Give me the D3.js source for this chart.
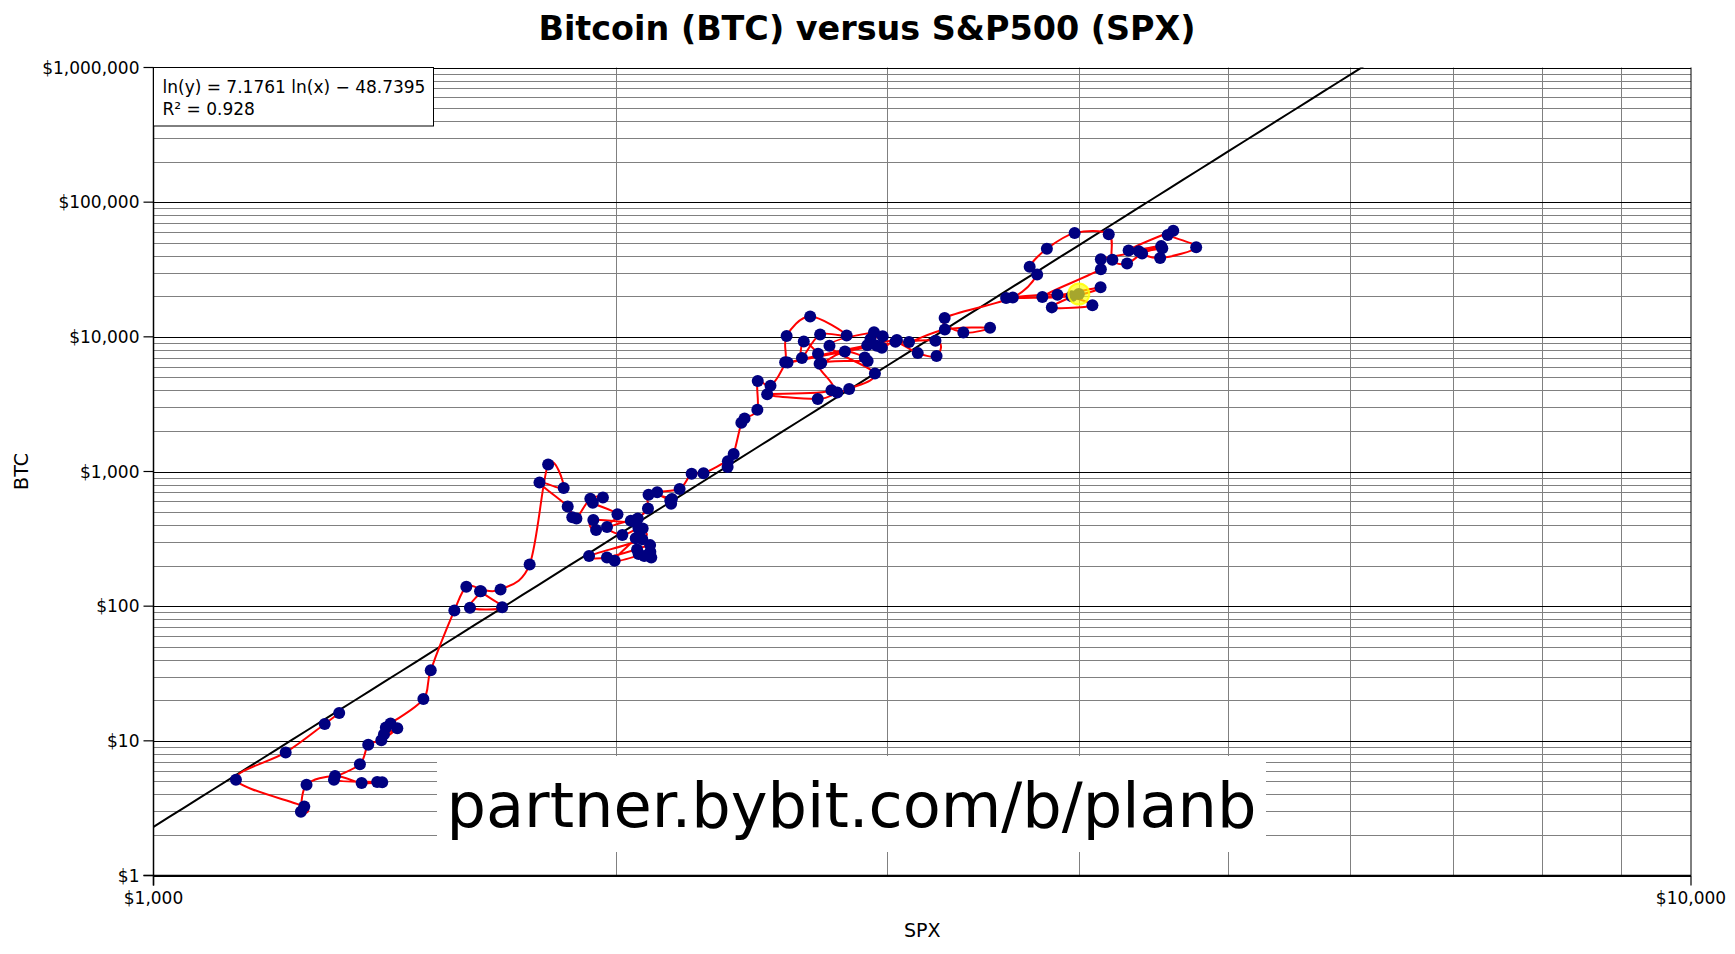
<!DOCTYPE html>
<html><head><meta charset="utf-8">
<script src="https://cdn.jsdelivr.net/npm/d3@7"></script>
<style>
body{margin:0;background:#fff}
svg{display:block}
text{font-family:"DejaVu Sans",sans-serif;fill:#000}
</style>
</head><body>
<svg id="chart" width="1735" height="954"></svg>
<script>
// ---- data (monthly, Jun 2011 .. Jan 2023) ----
const months = [
 "2011-06","2011-07","2011-08","2011-09","2011-10","2011-11","2011-12",
 "2012-01","2012-02","2012-03","2012-04","2012-05","2012-06","2012-07","2012-08","2012-09","2012-10","2012-11","2012-12",
 "2013-01","2013-02","2013-03","2013-04","2013-05","2013-06","2013-07","2013-08","2013-09","2013-10","2013-11","2013-12",
 "2014-01","2014-02","2014-03","2014-04","2014-05","2014-06","2014-07","2014-08","2014-09","2014-10","2014-11","2014-12",
 "2015-01","2015-02","2015-03","2015-04","2015-05","2015-06","2015-07","2015-08","2015-09","2015-10","2015-11","2015-12",
 "2016-01","2016-02","2016-03","2016-04","2016-05","2016-06","2016-07","2016-08","2016-09","2016-10","2016-11","2016-12",
 "2017-01","2017-02","2017-03","2017-04","2017-05","2017-06","2017-07","2017-08","2017-09","2017-10","2017-11","2017-12",
 "2018-01","2018-02","2018-03","2018-04","2018-05","2018-06","2018-07","2018-08","2018-09","2018-10","2018-11","2018-12",
 "2019-01","2019-02","2019-03","2019-04","2019-05","2019-06","2019-07","2019-08","2019-09","2019-10","2019-11","2019-12",
 "2020-01","2020-02","2020-03","2020-04","2020-05","2020-06","2020-07","2020-08","2020-09","2020-10","2020-11","2020-12",
 "2021-01","2021-02","2021-03","2021-04","2021-05","2021-06","2021-07","2021-08","2021-09","2021-10","2021-11","2021-12",
 "2022-01","2022-02","2022-03","2022-04","2022-05","2022-06","2022-07","2022-08","2022-09","2022-10","2022-11","2022-12",
 "2023-01"
];
const spx = [
 1320.6,1292.3,1218.9,1131.4,1253.3,1247.0,1257.6,
 1312.4,1365.7,1408.5,1397.9,1310.3,1362.2,1379.3,1406.6,1440.7,1412.2,1416.2,1426.2,
 1498.1,1514.7,1569.2,1597.6,1630.7,1606.3,1685.7,1633.0,1681.6,1756.5,1805.8,1848.4,
 1782.6,1859.5,1872.3,1884.0,1923.6,1960.2,1930.7,2003.4,1972.3,2018.1,2067.6,2058.9,
 1995.0,2104.5,2067.9,2085.5,2107.4,2063.1,2103.8,1972.2,1920.0,2079.4,2080.4,2043.9,
 1940.2,1932.2,2059.7,2065.3,2097.0,2098.9,2173.6,2171.0,2168.3,2126.2,2198.8,2238.8,
 2278.9,2363.6,2362.7,2384.2,2411.8,2423.4,2470.3,2471.7,2519.4,2575.3,2581.0,2673.6,
 2823.8,2713.8,2640.9,2648.1,2705.3,2718.4,2816.3,2901.5,2914.0,2711.7,2760.2,2506.9,
 2704.1,2784.5,2834.4,2945.8,2752.1,2941.8,2980.4,2926.5,2976.7,3037.6,3141.0,3230.8,
 3225.5,2954.2,2584.6,2912.4,3044.3,3100.3,3271.1,3500.3,3363.0,3270.0,3621.6,3756.1,
 3714.2,3811.2,3972.9,4181.2,4204.1,4297.5,4395.3,4522.7,4307.5,4605.4,4567.0,4766.2,
 4515.6,4373.9,4530.4,4131.9,4132.2,3785.4,4130.3,3955.0,3585.6,3872.0,4080.1,3839.5,
 3998
];
const btc = [
 16.1,13.35,8.2,5.14,3.25,2.97,4.72,
 5.48,4.86,4.92,4.95,5.15,6.69,9.35,10.1,12.4,11.2,12.56,13.45,
 20.41,33.38,93.0,139.2,128.8,97.5,98.0,129.3,133.0,204,1129,754,
 829,550,458,447,628,640,586,481,387,338,378,320,
 217,254,244,236,230,263,284,230,236,314,377,430,
 368,437,416,448,531,673,624,575,609,700,742,964,
 970,1190,1080,1348,2300,2480,2875,4703,4338,6468,10140,14156,
 10221,10397,6973,9240,7494,6404,7780,7037,6625,6318,4017,3742,
 3457,3854,4105,5350,8574,10817,10085,9630,8293,9199,7569,7194,
 9350,8599,6438,8658,9462,9137,11351,11680,10784,13781,19625,28990,
 33114,45137,58918,57750,37332,35041,41626,47166,43791,61318,57005,46306,
 38483,43194,45538,37714,31792,19785,23336,20050,19432,20496,17168,16548,
 20800
];
const highlightIndex = months.length - 1;

const xTickValues = [1000, 10000];
const xTickLabels = ["$1,000", "$10,000"];
const xMinorValues = [2000,3000,4000,5000,6000,7000,8000,9000];
const yTickValues = [1,10,100,1000,10000,100000,1000000];
const yTickLabels = ["$1","$10","$100","$1,000","$10,000","$100,000","$1,000,000"];

const fitSlope = 7.1761, fitIntercept = -48.7395;
const fitLines = ["ln(y) = 7.1761 ln(x) \u2212 48.7395", "R\u00B2 = 0.928"];
const titleText = "Bitcoin (BTC) versus S&P500 (SPX)";
const xTitle = "SPX", yTitle = "BTC";
const watermark = "partner.bybit.com/b/planb";

// ---- layout ----
const L = 153.5, R = 1691, T = 67.5, B = 875.5;
const svg = d3.select("#chart");
const x = d3.scaleLog().domain([1000, 10000]).range([L, R]);
const y = d3.scaleLog().domain([1, 1000000]).range([B, T]);

// minor horizontal grid
const yMinor = [];
for (let d = 0; d < 6; d++) for (let k = 2; k <= 9; k++) yMinor.push(k * Math.pow(10, d));

const grid = svg.append("g");
grid.selectAll("line.hm").data(yMinor).join("line")
  .attr("x1", L).attr("x2", R)
  .attr("y1", d => Math.round(y(d)) + 0.5).attr("y2", d => Math.round(y(d)) + 0.5)
  .attr("stroke", "#808080").attr("stroke-width", 1);
grid.selectAll("line.vm").data(xMinorValues).join("line")
  .attr("y1", T).attr("y2", B)
  .attr("x1", d => Math.round(x(d)) + 0.5).attr("x2", d => Math.round(x(d)) + 0.5)
  .attr("stroke", "#808080").attr("stroke-width", 1);
grid.selectAll("line.hM").data(yTickValues).join("line")
  .attr("x1", L).attr("x2", R)
  .attr("y1", d => Math.round(y(d)) + 0.5).attr("y2", d => Math.round(y(d)) + 0.5)
  .attr("stroke", "#000").attr("stroke-width", 1);
grid.append("line").attr("x1", R).attr("x2", R).attr("y1", T).attr("y2", B)
  .attr("stroke", "#000").attr("stroke-width", 1);

// watermark box (covers grid)
const wmBox = {x0: 437, x1: 1266, y0: 756, y1: 852};
svg.append("rect").attr("x", wmBox.x0).attr("y", wmBox.y0)
  .attr("width", wmBox.x1 - wmBox.x0).attr("height", wmBox.y1 - wmBox.y0).attr("fill", "#fff");
svg.append("text").attr("x", (wmBox.x0 + wmBox.x1) / 2).attr("y", 827)
  .attr("text-anchor", "middle").style("font-size", "62.2px").text(watermark);

// axes
const axisG = svg.append("g");
axisG.append("line").attr("x1", L).attr("x2", L).attr("y1", T).attr("y2", B + 10)
  .attr("stroke", "#000").attr("stroke-width", 1.5);
axisG.append("line").attr("x1", L - 10).attr("x2", R).attr("y1", B).attr("y2", B)
  .attr("stroke", "#000").attr("stroke-width", 1.5);
axisG.selectAll("line.yt").data(yTickValues).join("line")
  .attr("x1", L - 10).attr("x2", L).attr("y1", d => y(d)).attr("y2", d => y(d))
  .attr("stroke", "#000").attr("stroke-width", 1.2);
axisG.selectAll("line.xt").data(xTickValues).join("line")
  .attr("y1", B).attr("y2", B + 10).attr("x1", d => x(d)).attr("x2", d => x(d))
  .attr("stroke", "#000").attr("stroke-width", 1.2);
axisG.selectAll("text.yl").data(yTickValues).join("text")
  .attr("x", L - 14).attr("y", d => y(d)).attr("dy", "0.36em")
  .attr("text-anchor", "end").style("font-size", "17px")
  .text((d, i) => yTickLabels[i]);
axisG.selectAll("text.xl").data(xTickValues).join("text")
  .attr("x", d => x(d)).attr("y", 904)
  .attr("text-anchor", "middle").style("font-size", "17px")
  .text((d, i) => xTickLabels[i]);

// clip
svg.append("clipPath").attr("id", "plotclip").append("rect")
  .attr("x", L).attr("y", T).attr("width", R - L).attr("height", B - T);

// regression line
const fitX = d3.range(0, 101).map(i => 1000 * Math.pow(10, i / 100));
const fitLine = d3.line().x(d => x(d)).y(d => y(Math.exp(fitSlope * Math.log(d) + fitIntercept)));
svg.append("path").attr("clip-path", "url(#plotclip)")
  .attr("d", fitLine(fitX)).attr("fill", "none").attr("stroke", "#000").attr("stroke-width", 2);

// data path
const pts = spx.map((s, i) => ({s, b: btc[i], m: months[i]}));
const pathGen = d3.line().x(d => x(d.s)).y(d => y(d.b)).curve(d3.curveCatmullRom.alpha(0));
svg.append("path").attr("clip-path", "url(#plotclip)")
  .attr("d", pathGen(pts)).attr("fill", "none").attr("stroke", "#ff0000").attr("stroke-width", 2);

// points
svg.append("g").selectAll("circle").data(pts).join("circle")
  .attr("cx", d => x(d.s)).attr("cy", d => y(d.b)).attr("r", 6)
  .attr("fill", "#000080");

// highlight
const hp = pts[highlightIndex];
svg.append("circle").attr("cx", x(hp.s)).attr("cy", y(hp.b)).attr("r", 10.5)
  .attr("fill", "#ffff00").attr("fill-opacity", 0.65)
  .attr("stroke", "#ffff00").attr("stroke-opacity", 0.85).attr("stroke-width", 2);

// equation box
svg.append("rect").attr("x", L).attr("y", T).attr("width", 433.5 - L).attr("height", 126 - T)
  .attr("fill", "#fff").attr("stroke", "#000").attr("stroke-width", 1);
svg.selectAll("text.eq").data(fitLines).join("text")
  .attr("x", 162.5).attr("y", (d, i) => 93 + i * 21.5)
  .style("font-size", "17px").text(d => d);

// titles
svg.append("text").attr("x", 867).attr("y", 40).attr("text-anchor", "middle")
  .style("font-size", "33.4px").style("font-weight", "bold").text(titleText);
svg.append("text").attr("x", (L + R) / 2).attr("y", 937).attr("text-anchor", "middle")
  .style("font-size", "19px").text(xTitle);
svg.append("text").attr("transform", `translate(28,${(T + B) / 2}) rotate(-90)`)
  .attr("text-anchor", "middle").style("font-size", "19px").text(yTitle);
</script>
</body></html>
